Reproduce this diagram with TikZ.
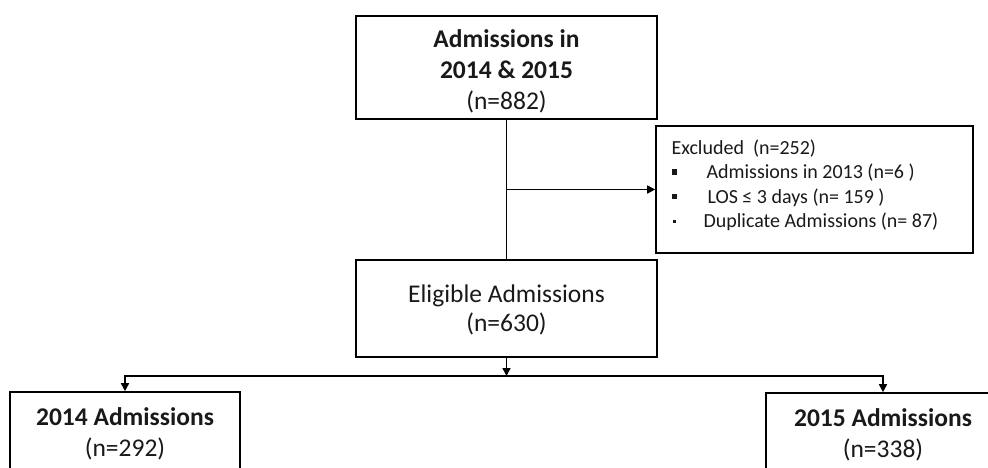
\documentclass[tikz,border=0pt]{standalone}
\usepackage{fontspec}
\setmainfont{Carlito}
\usetikzlibrary{arrows.meta,calc}
\begin{document}
\begin{tikzpicture}[x=1pt,y=1pt,
  box/.style={draw=black,line width=1.6pt,rectangle,inner sep=0pt,align=center,text=black!90},
  lbl/.style={inner sep=0pt,align=center,text=black!90},
  conn/.style={draw=black,line width=1.6pt},
  arr/.style={conn,-{Triangle[length=8pt,width=8pt]}}]
\useasboundingbox (0,0) rectangle (988,-468);
\clip (0,0) rectangle (988,-468);
\node[box,minimum width=301,minimum height=103] (top) at (506.5,-67.5) {};
\node[lbl,font=\fontsize{25.5}{31}\selectfont] (toptxt) at (506.5,-71.5)
  {\textbf{Admissions in}\\\textbf{2014 \& 2015}\\(n=882)};
\node[box,minimum width=317,minimum height=127] (excl) at (814.5,-189.5) {};
\node[anchor=west,text=black!90,font=\fontsize{20}{24.5}\selectfont,align=left] (extxt) at (668,-185.5)
  {Excluded\ \ (n=252)\\
   \rlap{\rule[0.2em]{0.28em}{0.28em}}\hspace{35pt}Admissions in 2013 (n=6 )\\
   \rlap{\rule[0.2em]{0.28em}{0.28em}}\hspace{36pt}LOS ≤ 3 days (n= 159 )\\
   \rlap{\kern0.05em\rule[0.25em]{0.15em}{0.15em}}\hspace{32pt}Duplicate Admissions (n= 87)};
\node[box,minimum width=301,minimum height=97] (elig) at (506.5,-308.5) {};
\node[lbl,font=\fontsize{25.5}{29}\selectfont] (eligtxt) at (506.5,-309.5)
  {Eligible Admissions\\(n=630)};
\node[box,minimum width=230,minimum height=80] (b14) at (125,-432) {};
\node[lbl,font=\fontsize{25.5}{31}\selectfont] (b14txt) at (125,-434)
  {\textbf{2014 Admissions}\\(n=292)};
\node[box,minimum width=234,minimum height=80] (b15) at (883,-433) {};
\node[lbl,font=\fontsize{25.5}{31}\selectfont] (b15txt) at (883,-434.5)
  {\textbf{2015 Admissions}\\(n=338)};
\coordinate (branch) at (top.south |- excl.west);
\coordinate (split) at (elig.south |- 0,-376);
\draw[conn] (top.south) -- (elig.north);
\draw[arr] (branch) -- (excl.west);
\draw[arr] (elig.south) -- (split);
\draw[arr] (split) -- (b14.north |- split) -- (b14.north);
\draw[arr] (split) -- (b15.north |- split) -- (b15.north);
\end{tikzpicture}
\end{document}
